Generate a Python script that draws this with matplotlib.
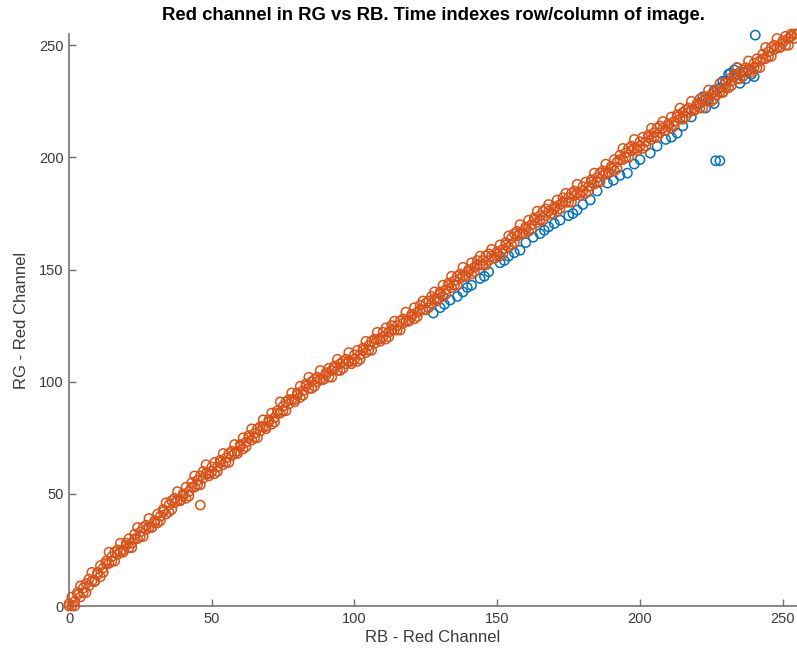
import matplotlib
matplotlib.use("Agg")
import matplotlib.pyplot as plt

# Red channel value of each pixel: RB image (x) against RG image (y)
rb_first = [127.6, 130, 131.5, 133.5, 136, 138, 139.5, 141, 144, 145.5, 147, 151, 152.5,
            154, 156, 158, 160, 162.6, 165, 166.5, 168, 170, 172, 175, 176.5, 178, 180,
            182.6, 185, 188.6, 190.7, 193, 195.6, 198, 200, 203.6, 206, 209, 211,
            213, 215, 218, 221, 222, 223, 224, 226, 226, 228, 229, 230, 231, 231.7,
            233, 233, 234, 235, 236, 237, 238, 239, 240, 240.4, 226.5, 228]
rg_first = [130.6, 133, 134.5, 136.4, 138, 140, 142, 143, 146, 147, 149, 153, 154,
            156, 157.5, 158.6, 162, 164.4, 166, 167.5, 169, 170.5, 172, 174, 175,
            176.5, 179, 181, 185, 188.5, 189.8, 192, 193, 197, 199, 201.9, 205, 208,
            209, 210.8, 214, 218, 224, 227, 222, 226, 224, 230, 231, 234, 234, 237,
            237.5, 236, 239, 240, 233, 238, 235, 239, 237, 236, 254.5, 198.5, 198.5]

rb_second = list(range(0, 256))
rg_second = [
    1, 0, 2, 6, 4, 8, 6, 12, 11, 11,
    15, 13, 17, 20, 19, 22, 20, 25, 24, 25,
    28, 26, 28, 32, 30, 33, 31, 36, 35, 35,
    38, 37, 40, 43, 41, 45, 43, 48, 47, 47,
    50, 48, 51, 55, 53, 56, 54, 60, 59, 59,
    62, 59, 62, 65, 63, 66, 64, 69, 68, 69,
    72, 70, 73, 76, 74, 77, 75, 80, 80, 80,
    83, 81, 84, 87, 86, 89, 87, 92, 92, 92,
    95, 93, 96, 99, 97, 100, 98, 102, 101, 101,
    104, 102, 105, 107, 105, 108, 106, 110, 109, 109,
    112, 109, 112, 115, 113, 116, 114, 119, 119, 119,
    122, 119, 122, 125, 123, 125, 123, 128, 127, 127,
    130, 128, 131, 134, 132, 135, 133, 138, 137, 137,
    140, 138, 141, 144, 142, 145, 143, 148, 147, 147,
    150, 148, 151, 154, 152, 154, 152, 157, 156, 155,
    158, 156, 159, 162, 160, 164, 162, 167, 166, 166,
    169, 167, 170, 173, 171, 174, 172, 177, 176, 175,
    178, 176, 179, 182, 180, 182, 180, 185, 184, 184,
    187, 184, 187, 190, 188, 191, 189, 194, 193, 193,
    196, 194, 198, 201, 199, 202, 200, 205, 204, 204,
    207, 204, 207, 210, 208, 211, 209, 214, 213, 212,
    215, 213, 216, 219, 217, 220, 218, 222, 221, 221,
    224, 222, 225, 227, 225, 228, 226, 230, 229, 229,
    233, 231, 234, 237, 235, 238, 236, 240, 239, 239,
    242, 240, 243, 246, 244, 247, 245, 250, 249, 249,
    252, 250, 253, 255, 253, 255]

# further pixels sharing the same RB levels 0..254
rb_second_b = list(range(0, 255))
rg_second_b = [
    0, 4, 0, 5, 9, 6, 10, 9, 15, 11,
    14, 18, 15, 19, 24, 20, 24, 23, 28, 24,
    27, 30, 26, 30, 35, 31, 35, 34, 39, 35,
    37, 41, 38, 42, 46, 42, 47, 46, 51, 47,
    49, 53, 49, 53, 58, 54, 58, 57, 63, 58,
    60, 64, 60, 64, 68, 64, 68, 67, 72, 68,
    71, 75, 71, 75, 79, 75, 79, 78, 83, 79,
    82, 86, 82, 86, 91, 87, 91, 90, 95, 91,
    94, 98, 94, 98, 102, 97, 101, 100, 105, 101,
    103, 106, 102, 106, 110, 105, 109, 108, 113, 108,
    110, 114, 110, 114, 118, 114, 118, 117, 122, 118,
    120, 124, 120, 123, 127, 123, 127, 126, 131, 127,
    129, 133, 129, 132, 136, 132, 136, 135, 140, 136,
    139, 143, 139, 143, 147, 143, 147, 146, 151, 147,
    149, 153, 149, 152, 156, 152, 156, 154, 159, 155,
    157, 161, 157, 161, 165, 161, 166, 165, 170, 166,
    168, 172, 168, 172, 176, 172, 176, 174, 179, 175,
    177, 181, 177, 180, 184, 180, 184, 183, 188, 183,
    185, 189, 185, 189, 193, 189, 193, 192, 197, 193,
    195, 199, 195, 199, 204, 200, 204, 203, 208, 203,
    205, 209, 205, 209, 213, 209, 213, 211, 216, 212,
    214, 218, 214, 218, 222, 217, 221, 220, 225, 221,
    223, 226, 222, 226, 230, 225, 229, 228, 233, 229,
    231, 235, 232, 236, 240, 235, 239, 238, 243, 238,
    240, 244, 240, 244, 249, 245, 249, 248, 253, 249,
    251, 254, 250, 254, 255]

# single stray pixel
rb_stray = [46]
rg_stray = [45]

x_ticks = [0, 50, 100, 150, 200, 250]
y_ticks = [0, 50, 100, 150, 200, 250]

BLUE = "#0072BD"
ORANGE = "#D95319"
AXIS_GRAY = "#737373"
TEXT_GRAY = "#3a3a3a"

plt.rcParams["font.family"] = ["Liberation Sans", "DejaVu Sans"]

fig = plt.figure(figsize=(7.97, 6.50), dpi=100)
ax = fig.add_axes([69 / 797, 44 / 650, 728 / 797, 572 / 650])

mk = dict(s=44, facecolors="none", linewidths=1.1, clip_on=False)
ax.scatter(rb_first, rg_first, edgecolors=BLUE, zorder=2, **mk)
ax.scatter(rb_second + rb_second_b + rb_stray, rg_second + rg_second_b + rg_stray,
           edgecolors=ORANGE, zorder=3, **mk)

ax.set_xlim(0, 255)
ax.set_ylim(0, 255)
ax.set_xticks(x_ticks)
ax.set_yticks(y_ticks)

for side in ("top", "right"):
    ax.spines[side].set_visible(False)
for side in ("left", "bottom"):
    ax.spines[side].set_color(AXIS_GRAY)
    ax.spines[side].set_linewidth(1.2)

ax.tick_params(direction="in", length=5, width=1.0, color=AXIS_GRAY,
               labelcolor=TEXT_GRAY, labelsize=10.5, pad=4)

ax.set_xlabel("RB - Red Channel", fontsize=12, color=TEXT_GRAY, labelpad=3)
ax.set_ylabel("RG - Red Channel", fontsize=12, color=TEXT_GRAY, labelpad=7)
ax.set_title("Red channel in RG vs RB. Time indexes row/column of image.",
             fontsize=13.3, fontweight="bold", color="black", pad=10)

fig.savefig("out.png", dpi=100)
